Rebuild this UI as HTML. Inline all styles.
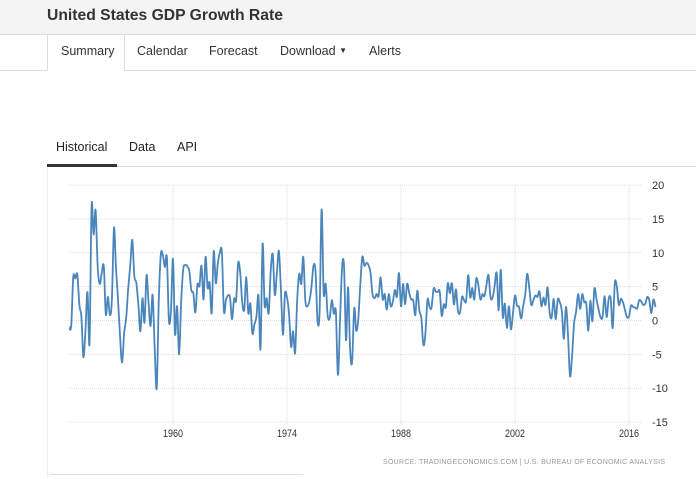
<!DOCTYPE html>
<html><head><meta charset="utf-8">
<style>
body{margin:0;width:696px;height:478px;overflow:hidden;background:#fff;font-family:"Liberation Sans",sans-serif;position:relative}
.hdr{position:absolute;left:0;top:0;width:696px;height:34px;background:#f4f4f4;border-bottom:1px solid #ddd}
.hdr h1{position:absolute;left:47px;top:7px;margin:0;font-size:15.7px;font-weight:bold;color:#333}
.nav{position:absolute;left:0;top:70px;width:696px;border-top:1px solid #ddd}
.tab{position:absolute;top:44px;font-size:12.5px;color:#333}
.sum{position:absolute;left:47px;top:35px;width:76px;height:36px;background:#fff;border-left:1px solid #ddd;border-right:1px solid #ddd}
.htab{position:absolute;top:140px;font-size:12.5px;color:#222}
</style></head><body>
<div class="hdr"><h1>United States GDP Growth Rate</h1></div>
<div class="nav"></div>
<div class="sum"></div>
<span class="tab" style="left:61px">Summary</span>
<span class="tab" style="left:137px">Calendar</span>
<span class="tab" style="left:209px">Forecast</span>
<span class="tab" style="left:280px">Download <span style="font-size:8px;vertical-align:2px">&#9660;</span></span>
<span class="tab" style="left:369px">Alerts</span>
<span class="htab" style="left:56px">Historical</span>
<span class="htab" style="left:129px">Data</span>
<span class="htab" style="left:177px">API</span>
<div style="position:absolute;left:47px;top:166px;width:649px;height:1px;background:#ddd"></div>
<div style="position:absolute;left:47px;top:164px;width:70px;height:3px;background:#333"></div>
<div style="position:absolute;left:47px;top:167px;width:1px;height:311px;background:#eee"></div>
<div style="position:absolute;left:50px;top:474px;width:253px;height:4px;border-top:1px solid #ddd"></div>
<svg id="chart" width="696" height="478" style="position:absolute;left:0;top:0"></svg>
<script>
const startYear = 1947.25;
const yTicks = [20,15,10,5,0,-5,-10,-15];
const xTicks = [1960,1974,1988,2002,2016];
const gdp = [
-1.0,-0.8,6.4,
6.2,6.8,2.3,0.5,
-5.4,-1.4,4.2,-3.4,
16.9,12.7,16.3,7.9,
5.4,7.0,8.0,0.9,
3.5,0.8,3.1,13.7,
7.7,3.1,-2.4,-6.2,
-1.9,0.4,4.7,8.1,
11.9,6.6,5.5,2.3,
-1.6,3.3,-0.3,6.7,
2.5,-0.8,3.8,-4.1,
-10.0,2.6,9.7,9.7,
7.9,9.3,0.0,1.5,
9.1,-2.0,2.1,-5.0,
2.6,7.5,8.2,8.0,
7.3,4.5,4.0,1.2,
5.3,5.1,8.1,3.1,
9.4,4.8,5.6,1.1,
10.2,5.5,8.4,10.0,
10.1,1.4,3.0,3.7,
3.4,0.2,3.2,3.0,
8.5,7.1,2.7,1.6,
6.4,1.1,2.5,-1.9,
-0.6,0.6,3.7,-4.2,
11.3,2.3,3.3,1.1,
7.3,9.8,3.8,6.9,
10.3,4.6,-2.1,3.9,
3.4,1.0,-3.9,-1.6,
-4.8,3.1,6.9,5.4,
9.4,3.0,2.1,2.9,
4.9,8.1,7.3,0.0,
1.3,16.4,4.1,5.4,
0.7,0.4,3.0,1.0,
1.3,-8.0,-0.5,7.6,
8.1,-2.9,4.9,-4.3,
-6.1,1.8,-1.5,0.2,
5.3,9.4,8.1,8.5,
8.2,7.1,3.9,3.3,
3.9,3.6,6.4,3.1,
3.9,1.6,3.9,2.1,
2.8,4.5,3.5,7.0,
2.1,5.4,2.4,5.4,
4.1,3.1,3.0,0.8,
4.4,1.5,0.3,-3.6,
-1.9,3.1,2.0,1.9,
4.7,4.3,4.2,4.3,
0.7,2.4,2.0,5.5,
4.0,5.5,2.4,4.6,
1.4,1.2,3.5,3.0,
2.9,6.7,3.4,4.8,
3.1,6.2,5.2,3.1,
3.9,3.6,5.3,6.7,
3.4,3.4,5.1,7.0,
1.5,7.5,0.5,2.5,
-1.1,2.1,-1.3,1.1,
3.7,2.2,2.0,0.3,
2.1,3.8,6.9,4.8,
2.3,3.0,3.7,3.5,
4.3,2.1,3.4,2.3,
4.9,1.2,0.4,3.2,
0.2,3.1,2.7,1.4,
-2.7,2.0,-1.9,-8.2,
-5.4,-0.5,1.3,3.9,
1.7,3.9,2.7,2.5,
-1.5,2.9,-0.1,4.7,
3.2,1.7,0.5,0.5,
3.6,0.5,3.2,3.2,
-1.1,5.5,5.0,2.3,
3.2,2.7,1.6,0.5,
0.6,2.2,2.0,1.9,
1.8,3.0,2.8,2.3,
2.5,3.5,2.9,1.1,
3.1,2.0
];
const NS="http://www.w3.org/2000/svg";
const svg=document.getElementById('chart');
const xS=t=>173+(t-1960)*8.143;
const yS=v=>320.5-v*6.77;
function mk(tag,attrs){const e=document.createElementNS(NS,tag);for(const k in attrs)e.setAttribute(k,attrs[k]);svg.appendChild(e);return e;}
yTicks.forEach(v=>{
  const l=mk('line',{x1:68,x2:642,y1:yS(v),y2:yS(v),stroke:'#ddd','stroke-dasharray':'1,1'});
  
  
  const t=mk('text',{x:652,y:yS(v)+4,'font-size':11,fill:'#333','font-family':'Liberation Sans, sans-serif'});
  t.textContent=v;
  
  
});
xTicks.forEach(yr=>{
  const l=mk('line',{x1:xS(yr),x2:xS(yr),y1:185,y2:425,stroke:'#ddd','stroke-dasharray':'1,1'});
  
  
  const t=mk('text',{x:xS(yr)-10,y:437,'font-size':11,fill:'#333','textLength':20,'lengthAdjust':'spacingAndGlyphs','font-family':'Liberation Sans, sans-serif'});
  t.textContent=yr;
  
  
});
const pts=gdp.map((v,i)=>[xS(startYear+i*0.25),yS(v)]);
let d='M'+pts[0][0].toFixed(1)+','+pts[0][1].toFixed(1);
for(let i=0;i<pts.length-1;i++){
  const p0=pts[Math.max(0,i-1)],p1=pts[i],p2=pts[i+1],p3=pts[Math.min(pts.length-1,i+2)];
  const c1=[p1[0]+(p2[0]-p0[0])/6,p1[1]+(p2[1]-p0[1])/6];
  const c2=[p2[0]-(p3[0]-p1[0])/6,p2[1]-(p3[1]-p1[1])/6];
  d+=' C'+c1[0].toFixed(1)+','+c1[1].toFixed(1)+' '+c2[0].toFixed(1)+','+c2[1].toFixed(1)+' '+p2[0].toFixed(1)+','+p2[1].toFixed(1);
}
const line=mk('path',{d:d,fill:'none',stroke:'#4a86bb','stroke-width':1.8,'stroke-linejoin':'round'});


const src=mk('text',{x:383,y:464,'font-size':7,fill:'#999','textLength':282,'lengthAdjust':'spacing','font-family':'Liberation Sans, sans-serif'});
src.textContent='SOURCE: TRADINGECONOMICS.COM | U.S. BUREAU OF ECONOMIC ANALYSIS';


</script>
</body></html>
